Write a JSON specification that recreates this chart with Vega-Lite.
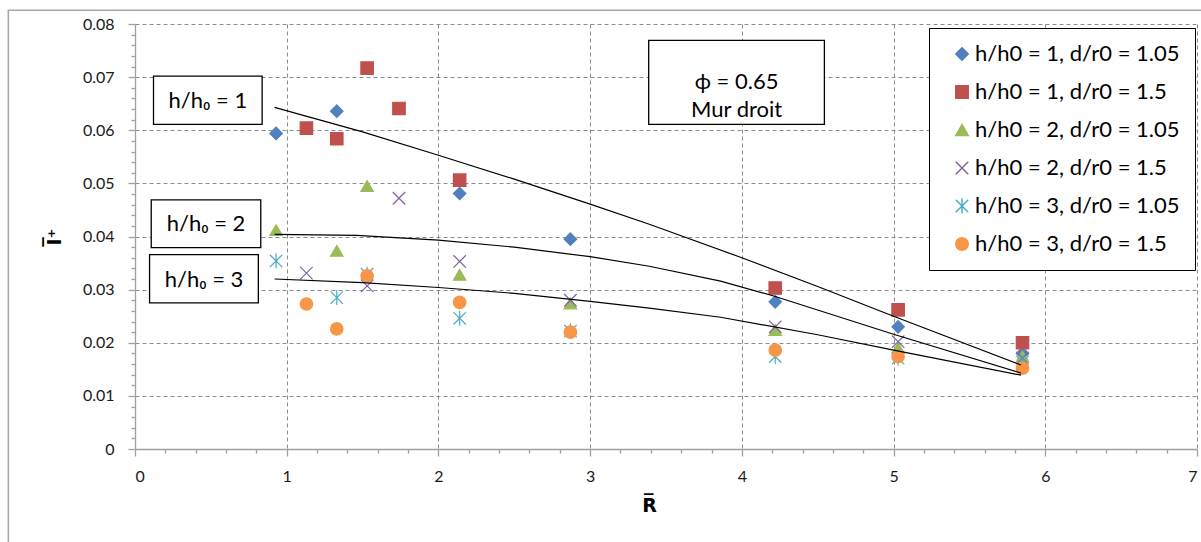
{
  "$schema": "https://vega.github.io/schema/vega-lite/v6.json",
  "width": 1062,
  "height": 425,
  "autosize": "none",
  "padding": {"left": 135, "top": 24, "right": 4, "bottom": 93},
  "background": "white",
  "datasets": {
    "points": [
      {"series": "h/h0 = 1, d/r0 = 1.05", "x": 0.93, "y": 0.0594},
      {"series": "h/h0 = 1, d/r0 = 1.05", "x": 1.33, "y": 0.0636},
      {"series": "h/h0 = 1, d/r0 = 1.05", "x": 2.14, "y": 0.0481},
      {"series": "h/h0 = 1, d/r0 = 1.05", "x": 2.87, "y": 0.0395},
      {"series": "h/h0 = 1, d/r0 = 1.05", "x": 4.22, "y": 0.0277},
      {"series": "h/h0 = 1, d/r0 = 1.05", "x": 5.03, "y": 0.0230},
      {"series": "h/h0 = 1, d/r0 = 1.05", "x": 5.85, "y": 0.0180},
      {"series": "h/h0 = 1, d/r0 = 1.5", "x": 1.13, "y": 0.0604},
      {"series": "h/h0 = 1, d/r0 = 1.5", "x": 1.33, "y": 0.0584},
      {"series": "h/h0 = 1, d/r0 = 1.5", "x": 1.53, "y": 0.0717},
      {"series": "h/h0 = 1, d/r0 = 1.5", "x": 1.74, "y": 0.0641},
      {"series": "h/h0 = 1, d/r0 = 1.5", "x": 2.14, "y": 0.0506},
      {"series": "h/h0 = 1, d/r0 = 1.5", "x": 4.22, "y": 0.0303},
      {"series": "h/h0 = 1, d/r0 = 1.5", "x": 5.03, "y": 0.0262},
      {"series": "h/h0 = 1, d/r0 = 1.5", "x": 5.85, "y": 0.0200},
      {"series": "h/h0 = 2, d/r0 = 1.05", "x": 0.93, "y": 0.0412},
      {"series": "h/h0 = 2, d/r0 = 1.05", "x": 1.33, "y": 0.0373},
      {"series": "h/h0 = 2, d/r0 = 1.05", "x": 1.53, "y": 0.0495},
      {"series": "h/h0 = 2, d/r0 = 1.05", "x": 2.14, "y": 0.0328},
      {"series": "h/h0 = 2, d/r0 = 1.05", "x": 2.87, "y": 0.0274},
      {"series": "h/h0 = 2, d/r0 = 1.05", "x": 4.22, "y": 0.0224},
      {"series": "h/h0 = 2, d/r0 = 1.05", "x": 5.03, "y": 0.0190},
      {"series": "h/h0 = 2, d/r0 = 1.05", "x": 5.85, "y": 0.0174},
      {"series": "h/h0 = 2, d/r0 = 1.5", "x": 1.13, "y": 0.0331},
      {"series": "h/h0 = 2, d/r0 = 1.5", "x": 1.53, "y": 0.0307},
      {"series": "h/h0 = 2, d/r0 = 1.5", "x": 1.74, "y": 0.0472},
      {"series": "h/h0 = 2, d/r0 = 1.5", "x": 2.14, "y": 0.0353},
      {"series": "h/h0 = 2, d/r0 = 1.5", "x": 2.87, "y": 0.0280},
      {"series": "h/h0 = 2, d/r0 = 1.5", "x": 4.22, "y": 0.0230},
      {"series": "h/h0 = 2, d/r0 = 1.5", "x": 5.03, "y": 0.0202},
      {"series": "h/h0 = 2, d/r0 = 1.5", "x": 5.85, "y": 0.0171},
      {"series": "h/h0 = 3, d/r0 = 1.05", "x": 0.93, "y": 0.0354},
      {"series": "h/h0 = 3, d/r0 = 1.05", "x": 1.33, "y": 0.0285},
      {"series": "h/h0 = 3, d/r0 = 1.05", "x": 1.53, "y": 0.0329},
      {"series": "h/h0 = 3, d/r0 = 1.05", "x": 2.14, "y": 0.0246},
      {"series": "h/h0 = 3, d/r0 = 1.05", "x": 2.87, "y": 0.0222},
      {"series": "h/h0 = 3, d/r0 = 1.05", "x": 4.22, "y": 0.0174},
      {"series": "h/h0 = 3, d/r0 = 1.05", "x": 5.03, "y": 0.0171},
      {"series": "h/h0 = 3, d/r0 = 1.05", "x": 5.85, "y": 0.0164},
      {"series": "h/h0 = 3, d/r0 = 1.5", "x": 1.13, "y": 0.0273},
      {"series": "h/h0 = 3, d/r0 = 1.5", "x": 1.33, "y": 0.0226},
      {"series": "h/h0 = 3, d/r0 = 1.5", "x": 1.53, "y": 0.0326},
      {"series": "h/h0 = 3, d/r0 = 1.5", "x": 2.14, "y": 0.0276},
      {"series": "h/h0 = 3, d/r0 = 1.5", "x": 2.87, "y": 0.0220},
      {"series": "h/h0 = 3, d/r0 = 1.5", "x": 4.22, "y": 0.0186},
      {"series": "h/h0 = 3, d/r0 = 1.5", "x": 5.03, "y": 0.0174},
      {"series": "h/h0 = 3, d/r0 = 1.5", "x": 5.85, "y": 0.0152}
    ],
    "curves": [
      {"curve": "1", "x": 0.92, "y": 0.0643},
      {"curve": "1", "x": 1.5, "y": 0.0597},
      {"curve": "1", "x": 2.0, "y": 0.0553},
      {"curve": "1", "x": 2.5, "y": 0.0508},
      {"curve": "1", "x": 3.0, "y": 0.0461},
      {"curve": "1", "x": 3.39, "y": 0.0423},
      {"curve": "1", "x": 4.0, "y": 0.0360},
      {"curve": "1", "x": 4.5, "y": 0.0306},
      {"curve": "1", "x": 5.0, "y": 0.0250},
      {"curve": "1", "x": 5.84, "y": 0.0158},
      {"curve": "2", "x": 0.92, "y": 0.0404},
      {"curve": "2", "x": 1.46, "y": 0.0402},
      {"curve": "2", "x": 2.0, "y": 0.0393},
      {"curve": "2", "x": 2.5, "y": 0.0380},
      {"curve": "2", "x": 3.0, "y": 0.0362},
      {"curve": "2", "x": 3.39, "y": 0.0344},
      {"curve": "2", "x": 3.86, "y": 0.0316},
      {"curve": "2", "x": 4.21, "y": 0.0288},
      {"curve": "2", "x": 5.0, "y": 0.0216},
      {"curve": "2", "x": 5.84, "y": 0.0143},
      {"curve": "3", "x": 0.92, "y": 0.0320},
      {"curve": "3", "x": 1.5, "y": 0.0313},
      {"curve": "3", "x": 2.0, "y": 0.0304},
      {"curve": "3", "x": 2.5, "y": 0.0293},
      {"curve": "3", "x": 3.0, "y": 0.0278},
      {"curve": "3", "x": 3.39, "y": 0.0265},
      {"curve": "3", "x": 3.86, "y": 0.0248},
      {"curve": "3", "x": 4.5, "y": 0.0215},
      {"curve": "3", "x": 5.0, "y": 0.0186},
      {"curve": "3", "x": 5.84, "y": 0.0139}
    ],
    "notes": [
      {"label": "h/h₀ = 1", "x": 0.122, "x2": 0.838, "y": 0.0702, "y2": 0.0611, "tx": 0.48, "ty": 0.0656},
      {"label": "h/h₀ = 2", "x": 0.107, "x2": 0.829, "y": 0.0469, "y2": 0.0379, "tx": 0.468, "ty": 0.0423},
      {"label": "h/h₀ = 3", "x": 0.096, "x2": 0.813, "y": 0.0366, "y2": 0.0275, "tx": 0.455, "ty": 0.0319},
      {"label": "ϕ = 0.65\nMur droit", "x": 3.386, "x2": 4.544, "y": 0.0769, "y2": 0.0611, "tx": 3.965, "ty": 0.0690}
    ]
  },
  "layer": [
    {
      "data": {"name": "points"},
      "mark": {"type": "point", "filled": true, "size": 155, "strokeWidth": 1.2, "opacity": 1},
      "encoding": {
        "x": {
          "field": "x", "type": "quantitative", "title": "R̅",
          "scale": {"domain": [0, 7], "nice": false, "zero": false},
          "axis": {
            "values": [0, 0.2, 0.4, 0.6, 0.8, 1, 1.2, 1.4, 1.6, 1.8, 2, 2.2, 2.4, 2.6, 2.8, 3, 3.2, 3.4, 3.6, 3.8, 4, 4.2, 4.4, 4.6, 4.8, 5, 5.2, 5.4, 5.6, 5.8, 6, 6.2, 6.4, 6.6, 6.8, 7],
            "tickCount": 200,
            "grid": true,
            "labelExpr": "abs(datum.value - round(datum.value)) < 0.001 ? format(datum.value, 'd') : ''",
            "labelOverlap": false,
            "labelFontSize": 16,
            "tickSize": {"condition": {"test": "abs(datum.value - round(datum.value)) < 0.001", "value": 7}, "value": 4},
            "gridOpacity": {"condition": {"test": "abs(datum.value - round(datum.value)) < 0.001", "value": 1}, "value": 0},
            "labelPadding": 12,
            "titlePadding": 12,
            "titleX": 514
          }
        },
        "y": {
          "field": "y", "type": "quantitative", "title": "I̅⁺",
          "scale": {"domain": [0, 0.08], "nice": false, "zero": false},
          "axis": {
            "values": [0, 0.002, 0.004, 0.006, 0.008, 0.01, 0.012, 0.014, 0.016, 0.018, 0.02, 0.022, 0.024, 0.026, 0.028, 0.03, 0.032, 0.034, 0.036, 0.038, 0.04, 0.042, 0.044, 0.046, 0.048, 0.05, 0.052, 0.054, 0.056, 0.058, 0.06, 0.062, 0.064, 0.066, 0.068, 0.07, 0.072, 0.074, 0.076, 0.078, 0.08],
            "tickCount": 200,
            "grid": true,
            "labelExpr": "abs(datum.value * 100 - round(datum.value * 100)) < 0.001 ? (datum.value == 0 ? '0' : format(datum.value, '.2f')) : ''",
            "labelOverlap": false,
            "labelFontSize": 16,
            "tickSize": {"condition": {"test": "abs(datum.value * 100 - round(datum.value * 100)) < 0.001", "value": 7}, "value": 4},
            "gridOpacity": {"condition": {"test": "abs(datum.value * 100 - round(datum.value * 100)) < 0.001", "value": 1}, "value": 0},
            "labelPadding": 14,
            "titlePadding": 18
          }
        },
        "shape": {
          "field": "series", "type": "nominal", "legend": {"title": null},
          "scale": {
            "domain": ["h/h0 = 1, d/r0 = 1.05", "h/h0 = 1, d/r0 = 1.5", "h/h0 = 2, d/r0 = 1.05", "h/h0 = 2, d/r0 = 1.5", "h/h0 = 3, d/r0 = 1.05", "h/h0 = 3, d/r0 = 1.5"],
            "range": ["diamond", "square", "triangle-up", "M-1,-1L1,1M-1,1L1,-1", "M-1,-1L1,1M-1,1L1,-1M0,-1.2L0,1.2", "circle"]
          }
        },
        "fill": {
          "field": "series", "type": "nominal", "legend": {"title": null},
          "scale": {
            "domain": ["h/h0 = 1, d/r0 = 1.05", "h/h0 = 1, d/r0 = 1.5", "h/h0 = 2, d/r0 = 1.05", "h/h0 = 2, d/r0 = 1.5", "h/h0 = 3, d/r0 = 1.05", "h/h0 = 3, d/r0 = 1.5"],
            "range": ["#4f81bd", "#c0504d", "#9bbb59", "#8064a2", "#4bacc6", "#f79646"]
          }
        },
        "stroke": {
          "field": "series", "type": "nominal", "legend": {"title": null},
          "scale": {
            "domain": ["h/h0 = 1, d/r0 = 1.05", "h/h0 = 1, d/r0 = 1.5", "h/h0 = 2, d/r0 = 1.05", "h/h0 = 2, d/r0 = 1.5", "h/h0 = 3, d/r0 = 1.05", "h/h0 = 3, d/r0 = 1.5"],
            "range": ["#4f81bd", "#c0504d", "#9bbb59", "#8064a2", "#4bacc6", "#f79646"]
          }
        }
      }
    },
    {
      "data": {"values": [{}]},
      "mark": {"type": "rect", "fill": "white", "fillOpacity": 0, "stroke": "#a6a6a6", "strokeWidth": 1.5},
      "encoding": {
        "x": {"datum": -0.835, "type": "quantitative", "title": "R̅"},
        "x2": {"datum": 7.6},
        "y": {"datum": 0.0826, "type": "quantitative", "title": "I̅⁺"},
        "y2": {"datum": -0.03}
      }
    },
    {
      "data": {"name": "curves"},
      "mark": {"type": "line", "color": "black", "strokeWidth": 1.2},
      "encoding": {
        "x": {"field": "x", "type": "quantitative", "title": "R̅"},
        "y": {"field": "y", "type": "quantitative", "title": "I̅⁺"},
        "detail": {"field": "curve", "type": "nominal"}
      }
    },
    {
      "data": {"name": "notes"},
      "mark": {"type": "rect", "fill": "white", "stroke": "black", "strokeWidth": 1.3},
      "encoding": {
        "x": {"field": "x", "type": "quantitative", "title": "R̅"},
        "x2": {"field": "x2"},
        "y": {"field": "y", "type": "quantitative", "title": "I̅⁺"},
        "y2": {"field": "y2"}
      }
    },
    {
      "data": {"name": "notes"},
      "mark": {"type": "text", "font": "Lato", "fontSize": 22, "color": "black", "lineBreak": "\n", "lineHeight": 28, "align": "center", "baseline": "middle"},
      "encoding": {
        "x": {"field": "tx", "type": "quantitative", "title": "R̅"},
        "y": {"field": "ty", "type": "quantitative", "title": "I̅⁺"},
        "text": {"field": "label"}
      }
    }
  ],
  "config": {
    "font": "Lato",
    "view": {"stroke": null},
    "axis": {
      "domainColor": "#a0a0a0", "domainWidth": 1.3,
      "tickColor": "#a0a0a0", "tickWidth": 1.3,
      "gridColor": "#8c8c8c", "gridDash": [4, 3], "gridWidth": 1,
      "labelFont": "Lato", "labelFontSize": 16, "labelColor": "#1a1a1a",
      "titleFont": "DejaVu Sans", "titleFontSize": 19, "titleFontWeight": "bold", "titleColor": "black"
    },
    "legend": {
      "orient": "none", "legendX": 794, "legendY": 4,
      "strokeColor": "black", "fillColor": "white", "padding": 15,
      "labelFont": "Lato", "labelFontSize": 22, "labelColor": "black", "labelLimit": 400,
      "symbolSize": 155, "symbolStrokeWidth": 1.5, "rowPadding": 16,
      "symbolOffset": 7, "labelOffset": 2
    }
  }
}
